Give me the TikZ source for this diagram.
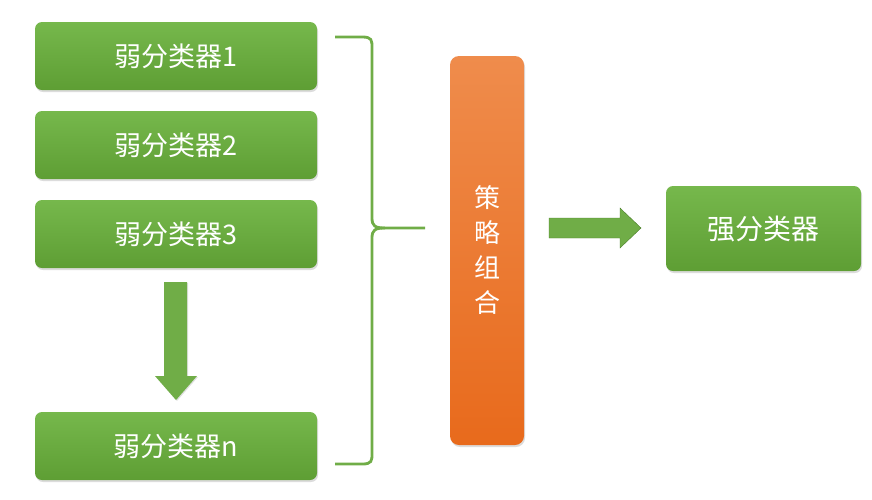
\documentclass[tikz,border=0pt]{standalone}
\usepackage{fontspec}
\setmainfont{Noto Sans CJK SC}
\usetikzlibrary{shadows,calc}
\definecolor{gtop}{HTML}{76B84C}
\definecolor{gbot}{HTML}{5E9E34}
\definecolor{otop}{HTML}{EF8C4C}
\definecolor{obot}{HTML}{E86A1C}
\definecolor{gline}{HTML}{70AD47}
\tikzset{
  gbox/.style={rounded corners=7pt, top color=gtop, bottom color=gbot, draw=none,
    drop shadow={shadow xshift=1pt, shadow yshift=-2pt, fill=black!45, opacity=0.3},
    text=white, font=\fontsize{27}{30}\selectfont, inner sep=0pt},
  obox/.style={rounded corners=9pt, top color=otop, bottom color=obot, draw=none,
    drop shadow={shadow xshift=1pt, shadow yshift=-2pt, fill=black!45, opacity=0.3},
    text=white, font=\fontsize{26}{35}\selectfont, inner sep=0pt, align=center},
  brace/.style={draw=gline, line width=2.8pt, line cap=butt},
  fatarrow/.style={fill=gline, draw=gbot!80!black, line width=0.4pt}
}
\begin{document}
\begin{tikzpicture}[x=1pt,y=-1pt]
\useasboundingbox (0,0) rectangle (872,499);
\node[gbox, minimum width=282pt, minimum height=68pt] (w1) at (176,56) {弱分类器1};
\node[gbox, minimum width=282pt, minimum height=68pt] (w2) at (176,145) {弱分类器2};
\node[gbox, minimum width=282pt, minimum height=68pt] (w3) at (176,234) {弱分类器3};
\node[gbox, minimum width=282pt, minimum height=68pt] (wn) at (176,446) {弱分类器n};
\node[obox, minimum width=74pt, minimum height=389pt] (comb) at (487,250.5) {策\\略\\组\\合};
\node[gbox, minimum width=195pt, minimum height=85pt, font=\fontsize{28}{30}\selectfont] (strong) at (763.5,228.5) {强分类器};
% brace
\coordinate (bt) at (335,37);
\coordinate (bb) at (335,464);
\coordinate (bm) at (425,228);
\draw[brace] (bt) -- (362,37) .. controls (372,37) and (372,40) .. (372,48)
  -- (372,218) .. controls (372,226) and (375,228) .. (385,228) -- (bm);
\draw[brace] (bb) -- (362,464) .. controls (372,464) and (372,461) .. (372,453)
  -- (372,238) .. controls (372,230) and (375,228) .. (385,228);
% down arrow
\path[fatarrow, draw=none, fill=gline, drop shadow={shadow xshift=1pt, shadow yshift=-1pt, fill=black!40, opacity=0.3}]
  (164,282) -- (187,282) -- (187,376) -- (197,376) -- (176,400) -- (155,376) -- (164,376) -- cycle;
% right arrow
\path[fatarrow] (549,218) -- (620,218) -- (620,208) -- (641,228) -- (620,248) -- (620,238) -- (549,238) -- cycle;
\end{tikzpicture}
\end{document}
